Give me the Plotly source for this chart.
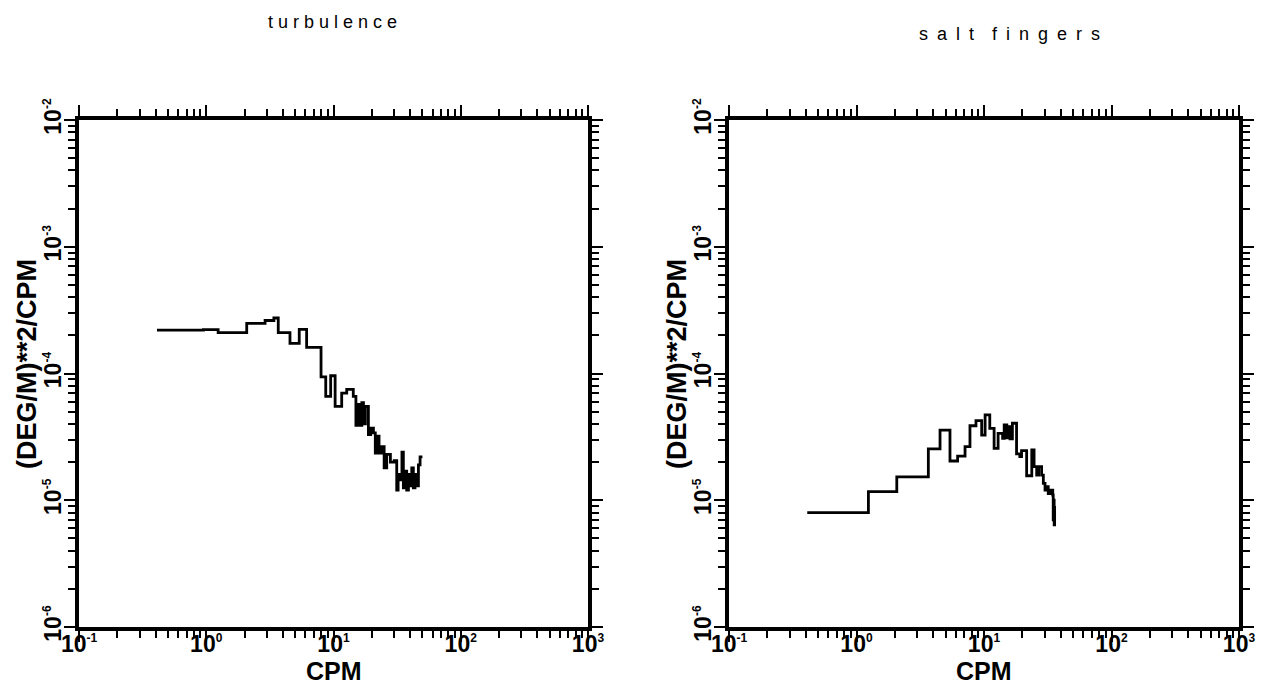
import plotly.graph_objects as go

# Temperature-gradient spectra, step (band-averaged) form.
# Each frequency is the left edge of a band; the last entry closes the final band.
turb_freq = [0.41, 0.95, 1.24, 2.08, 2.90, 3.40, 3.68, 4.55, 5.38, 6.15, 7.98, 8.69,
             9.5, 10.3, 11.6, 12.7, 14.3, 15.0, 15.6, 16.2, 16.7, 17.2, 17.8, 18.8,
             19.6, 20.6, 21.3, 22.1, 22.8, 23.9, 25.0, 26.2, 28.0, 30.0, 31.4, 32.2,
             33.0, 34.5, 35.4, 36.5, 37.6, 38.8, 39.9, 41.2, 42.4, 43.7, 45.1, 46.5,
             47.9, 50.0]
turb_spec = [2.20e-4, 2.22e-4, 2.10e-4, 2.49e-4, 2.62e-4, 2.74e-4, 2.10e-4, 1.73e-4,
             2.23e-4, 1.61e-4, 9.4e-5, 6.6e-5, 9.6e-5, 5.5e-5, 7.0e-5, 7.5e-5, 6.6e-5,
             3.9e-5, 5.7e-5, 3.9e-5, 5.9e-5, 4.0e-5, 5.5e-5, 3.3e-5, 3.7e-5, 3.4e-5,
             2.35e-5, 3.2e-5, 2.35e-5, 2.65e-5, 1.8e-5, 2.3e-5, 2.0e-5, 2.05e-5, 1.2e-5,
             1.6e-5, 1.45e-5, 2.4e-5, 1.25e-5, 1.7e-5, 1.2e-5, 1.6e-5, 1.3e-5, 1.8e-5,
             1.25e-5, 1.6e-5, 1.3e-5, 1.9e-5, 2.2e-5, 2.2e-5]

salt_freq = [0.411, 1.24, 2.07, 3.66, 4.52, 5.41, 6.21, 7.10, 7.76, 8.65, 9.59, 10.2,
             11.1, 12.0, 12.9, 14.0, 14.4, 15.1, 15.5, 16.0, 16.7, 18.0, 19.1, 19.7,
             21.6, 23.7, 24.7, 25.9, 26.8, 28.3, 29.2, 30.1, 31.0, 31.9, 33.2, 34.6,
             34.9, 35.2, 35.5, 35.8, 36.1]
salt_spec = [8.0e-6, 1.17e-5, 1.53e-5, 2.54e-5, 3.58e-5, 2.04e-5, 2.23e-5, 2.65e-5,
             3.87e-5, 4.25e-5, 3.27e-5, 4.71e-5, 3.69e-5, 2.57e-5, 3.37e-5, 3.08e-5,
             3.93e-5, 3.1e-5, 3.8e-5, 3.05e-5, 4.05e-5, 2.32e-5, 2.21e-5, 2.46e-5,
             1.56e-5, 2.5e-5, 1.84e-5, 1.58e-5, 1.84e-5, 1.58e-5, 1.36e-5, 1.2e-5,
             1.28e-5, 1.13e-5, 1.2e-5, 1.1e-5, 7.0e-6, 1.0e-5, 6.4e-6, 9.0e-6, 9.0e-6]

EN = "\u2002"
panel_titles = ["t u r b u l e n c e",
                EN.join("salt") + EN * 2 + EN.join("fingers")]
x_title = "CPM"
y_title = "(DEG/M)**2/CPM"

x_exps = [-1, 0, 1, 2, 3]
y_exps = [-6, -5, -4, -3, -2]


def pow_label(e):
    return f"<b>10<sup><span style='font-size:12px'>{e}</span></sup></b>"


x_minor = [m * 10.0 ** e for e in x_exps[:-1] for m in range(2, 10)]
y_minor = [m * 10.0 ** e for e in y_exps[:-1] for m in range(2, 10)]

FONT = "Liberation Sans, Arial, Helvetica, sans-serif"

fig = go.Figure()
fig.add_trace(go.Scatter(x=turb_freq, y=turb_spec, mode="lines", line_shape="hv",
                         line=dict(color="black", width=2.8), xaxis="x", yaxis="y",
                         showlegend=False))
fig.add_trace(go.Scatter(x=salt_freq, y=salt_spec, mode="lines", line_shape="hv",
                         line=dict(color="black", width=2.8), xaxis="x2", yaxis="y2",
                         showlegend=False))

x_common = dict(
    type="log", range=[-1, 3], automargin=False,
    tickmode="array", tickvals=[10.0 ** e for e in x_exps],
    ticktext=[pow_label(e) for e in x_exps],
    ticks="outside", ticklen=11, tickwidth=2, tickcolor="black",
    minor=dict(tickmode="array", tickvals=x_minor, ticks="outside", ticklen=7,
               tickwidth=1.5, tickcolor="black", showgrid=False),
    showline=True, linewidth=4, linecolor="black", mirror="allticks",
    showgrid=False, zeroline=False, ticklabelstandoff=-18,
    tickfont=dict(size=23, color="black", family=FONT),
)
y_common = dict(
    type="log", range=[-6, -2], automargin=False,
    tickmode="array", tickvals=[10.0 ** e for e in y_exps],
    ticktext=[pow_label(e) for e in y_exps],
    ticks="outside", ticklen=11, tickwidth=2, tickcolor="black",
    minor=dict(tickmode="array", tickvals=y_minor, ticks="outside", ticklen=7,
               tickwidth=1.5, tickcolor="black", showgrid=False),
    showline=True, linewidth=4, linecolor="black", mirror="allticks",
    showgrid=False, zeroline=False, tickangle=-90, ticklabelstandoff=-6,
    tickfont=dict(size=23, color="black", family=FONT),
)

left_dom = [79 / 1268, 588 / 1268]
right_dom = [729 / 1268, 1239 / 1268]
y_dom = [1 - 627 / 700, 1 - 120 / 700]

annotations = []
for title, xc, yc in [(panel_titles[0], 333 / 1268, 1 - 22 / 700),
                      (panel_titles[1], 1009 / 1268, 1 - 34 / 700)]:
    annotations.append(dict(text=title, x=xc, y=yc, xref="paper", yref="paper",
                            xanchor="center", yanchor="middle", showarrow=False,
                            font=dict(size=18, color="black", family=FONT)))
for dom, ytx in [(left_dom, 27 / 1268), (right_dom, 677 / 1268)]:
    annotations.append(dict(text=f"<b>{x_title}</b>", x=(dom[0] + dom[1]) / 2,
                            y=1 - 671 / 700, xref="paper", yref="paper",
                            xanchor="center", yanchor="middle", showarrow=False,
                            font=dict(size=25, color="black", family=FONT)))
    annotations.append(dict(text=f"<b>{y_title}</b>", x=ytx, y=1 - 364 / 700,
                            xref="paper", yref="paper", textangle=-90,
                            xanchor="center", yanchor="middle", showarrow=False,
                            font=dict(size=27, color="black", family=FONT)))

fig.update_layout(
    width=1268, height=700, margin=dict(l=0, r=0, t=0, b=0),
    paper_bgcolor="white", plot_bgcolor="white",
    font=dict(family=FONT, color="black"),
    xaxis=dict(domain=left_dom, anchor="y", **x_common),
    yaxis=dict(domain=y_dom, anchor="x", **y_common),
    xaxis2=dict(domain=right_dom, anchor="y2", **x_common),
    yaxis2=dict(domain=y_dom, anchor="x2", **y_common),
    annotations=annotations,
)

fig.write_html("out.html")
